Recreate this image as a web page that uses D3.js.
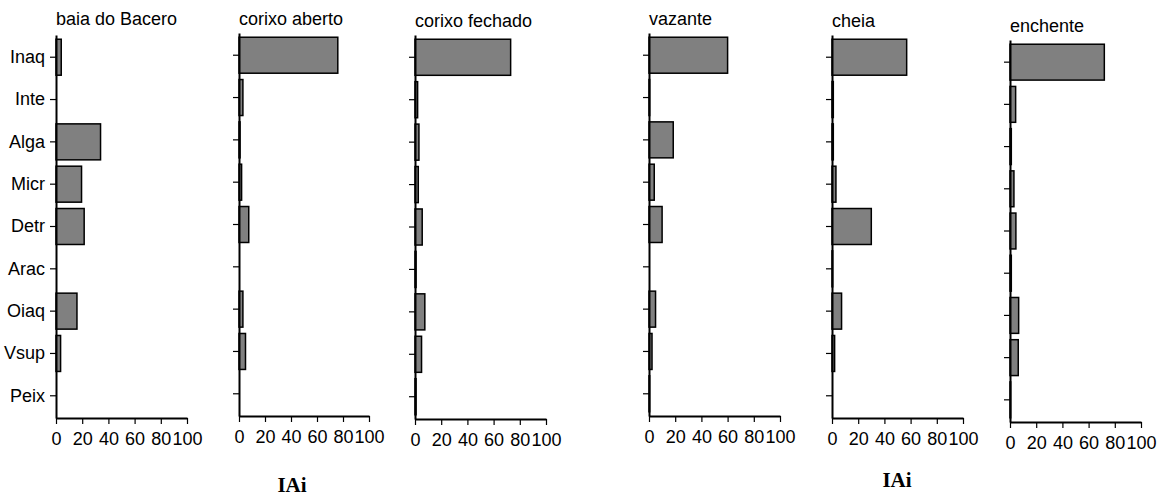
<!DOCTYPE html>
<html>
<head>
<meta charset="utf-8">
<script src="https://cdn.jsdelivr.net/npm/d3@7"></script>
<style>
  html, body { margin: 0; padding: 0; background: #fff; }
  svg { display: block; }
  text { font-family: Arial, "Liberation Sans", sans-serif; }
</style>
</head>
<body>
<svg id="chart" width="1163" height="497"></svg>
<script>
// ---- data ----
const categories = ["Inaq", "Inte", "Alga", "Micr", "Detr", "Arac", "Oiaq", "Vsup", "Peix"];
const panelTitles = ["baia do Bacero", "corixo aberto", "corixo fechado", "vazante", "cheia", "enchente"];
const baiaDoBacero  = [4, 0, 34, 19.5, 21.5, 0, 16, 3.5, 0];
const corixoAberto  = [76, 3, 0.8, 2, 7.5, 0, 3, 5, 0];
const corixoFechado = [73, 2, 3, 2.5, 5.5, 0.8, 7.5, 5, 0.8];
const vazante       = [60, 0.5, 18.5, 4, 10, 0, 5, 2.3, 0.5];
const cheia         = [57, 1, 1, 3, 30, 0.5, 7.3, 2, 0];
const enchente      = [72, 4.3, 1, 3, 4.5, 1, 6.6, 6.3, 0.5];
const xTicks = [0, 20, 40, 60, 80, 100];
const axisLabel = "IAi";

const seriesList = [baiaDoBacero, corixoAberto, corixoFechado, vazante, cheia, enchente];

// ---- layout (positions only) ----
const layout = [
  { x0: 56,   top: 35, bottom: 418, w: 131, titleY: 25 },
  { x0: 239,  top: 33, bottom: 416, w: 130, titleY: 25 },
  { x0: 415,  top: 35, bottom: 419, w: 131, titleY: 27 },
  { x0: 649,  top: 33, bottom: 416, w: 131, titleY: 25 },
  { x0: 832,  top: 35, bottom: 418, w: 131, titleY: 27 },
  { x0: 1010, top: 40, bottom: 422, w: 131, titleY: 32 }
];
const axisLabelPos = [ { x: 292, y: 492 }, { x: 897, y: 487 } ];

const svg = d3.select("#chart");

seriesList.forEach((vals, i) => {
  const L = layout[i];
  const data = categories.map((c, k) => ({ cat: c, v: vals[k] }));
  const x = d3.scaleLinear().domain([0, 100]).range([L.x0, L.x0 + L.w]);
  const y = d3.scaleBand().domain(categories).range([L.top, L.bottom])
    .paddingInner(0.15).paddingOuter(0.1);

  const g = svg.append("g");

  // bars
  g.selectAll("rect.bar").data(data).enter().append("rect")
    .attr("class", "bar")
    .attr("x", x(0))
    .attr("y", d => y(d.cat))
    .attr("width", d => x(d.v) - x(0))
    .attr("height", y.bandwidth())
    .attr("fill", "#808080")
    .attr("stroke", "#000")
    .attr("stroke-width", 1.5);

  // y axis
  const ya = g.append("g")
    .attr("transform", `translate(${x(0)},0)`)
    .call(d3.axisLeft(y).tickSize(6).tickSizeOuter(0).tickPadding(5)
      .tickFormat(i === 0 ? (d => d) : (() => "")));
  ya.select(".domain").attr("stroke", "#000").attr("stroke-width", 2);
  ya.selectAll(".tick line").attr("stroke", "#000").attr("stroke-width", 1.2);
  ya.selectAll(".tick text").attr("font-size", 18).attr("fill", "#000")
    .style("font-family", "Arial, 'Liberation Sans', sans-serif");

  // x axis
  const xa = g.append("g")
    .attr("transform", `translate(0,${L.bottom})`)
    .call(d3.axisBottom(x).tickValues(xTicks).tickSize(6).tickSizeOuter(0).tickPadding(8));
  xa.select(".domain").attr("stroke", "#000").attr("stroke-width", 2);
  xa.selectAll(".tick line").attr("stroke", "#000").attr("stroke-width", 1.2);
  xa.selectAll(".tick text").attr("font-size", 18).attr("fill", "#000")
    .style("font-family", "Arial, 'Liberation Sans', sans-serif");

  // title
  g.append("text")
    .attr("x", x(0))
    .attr("y", L.titleY)
    .attr("font-size", 18)
    .attr("fill", "#000")
    .text(panelTitles[i]);
});

axisLabelPos.forEach(p => {
  svg.append("text")
    .attr("x", p.x).attr("y", p.y)
    .attr("text-anchor", "middle")
    .attr("font-size", 21)
    .attr("font-weight", "bold")
    .style("font-family", "'Times New Roman', 'Liberation Serif', serif")
    .attr("fill", "#000")
    .text(axisLabel);
});
</script>
</body>
</html>
